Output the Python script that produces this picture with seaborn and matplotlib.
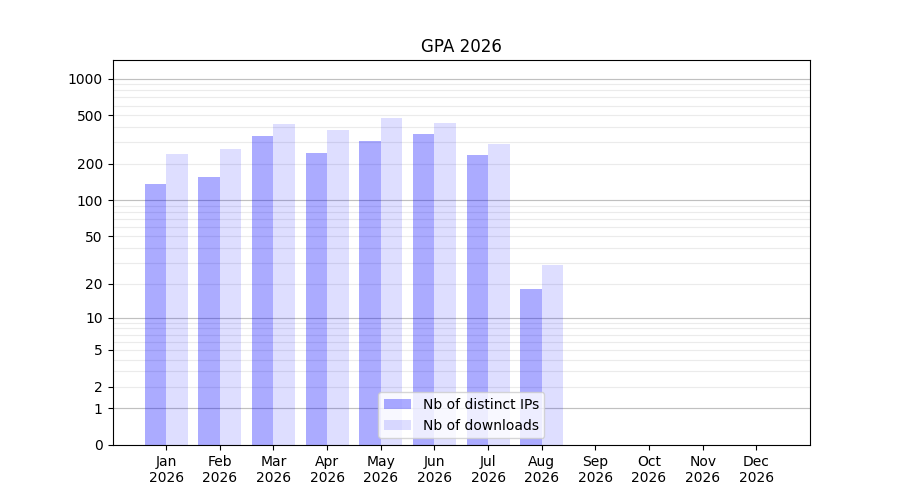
import numpy as np
import pandas as pd
import matplotlib
matplotlib.use("Agg")
import matplotlib.pyplot as plt
import seaborn as sns

months = ["Jan", "Feb", "Mar", "Apr", "May", "Jun",
          "Jul", "Aug", "Sep", "Oct", "Nov", "Dec"]
year = "2026"
distinct_ips = [136, 155, 337, 244, 306, 350, 235, 18, 0, 0, 0, 0]
downloads = [240, 263, 423, 377, 473, 430, 289, 29, 0, 0, 0, 0]
series_labels = ["Nb of distinct IPs", "Nb of downloads"]
series_alpha = [0.33, 0.13]

major_ticks = [0, 1, 2, 5, 10, 20, 50, 100, 200, 500, 1000]
decade_lines = [1, 10, 100, 1000]

df = pd.DataFrame({
    "month": months * 2,
    "value": distinct_ips + downloads,
    "series": [series_labels[0]] * 12 + [series_labels[1]] * 12,
})

fig, ax = plt.subplots(figsize=(9, 5), dpi=100)
sns.barplot(data=df, x="month", y="value", hue="series", order=months,
            hue_order=series_labels, palette=["#0000ff", "#0000ff"],
            saturation=1, width=0.8, legend=False, ax=ax)

for cont, a in zip(ax.containers, series_alpha):
    for p in cont:
        p.set_alpha(a)
        p.set_edgecolor("none")

# y axis: log10(1 + x)
ax.set_yscale("function", functions=(lambda v: np.log10(1 + np.clip(v, 0, None)),
                                     lambda v: 10 ** v - 1))
ax.set_ylim(0, 1420)
ax.set_yticks(major_ticks)
ax.set_yticklabels([str(t) for t in major_ticks])
minor = [m * 10 ** k for k in range(0, 3) for m in range(2, 10)] + [1000]
ax.set_yticks(minor, minor=True)
ax.tick_params(axis="y", which="minor", length=0)
ax.set_axisbelow(True)
ax.grid(axis="y", which="both", color="#ebebeb", linewidth=0.8)
for v in decade_lines:
    ax.axhline(v, color="#c0c0c0", linewidth=0.8, zorder=0.6)

ax.set_xlim(-1, 12)
ax.set_xticks(range(12))
ax.set_xticklabels([f"{m}\n{year}" for m in months])
ax.set_xlabel("")
ax.set_ylabel("")
ax.set_title("GPA 2026")
ax.legend(ax.containers, series_labels, loc="lower center")

fig.subplots_adjust(left=0.125, right=0.9, top=0.88, bottom=0.11)
plt.savefig("out.png", dpi=100)
